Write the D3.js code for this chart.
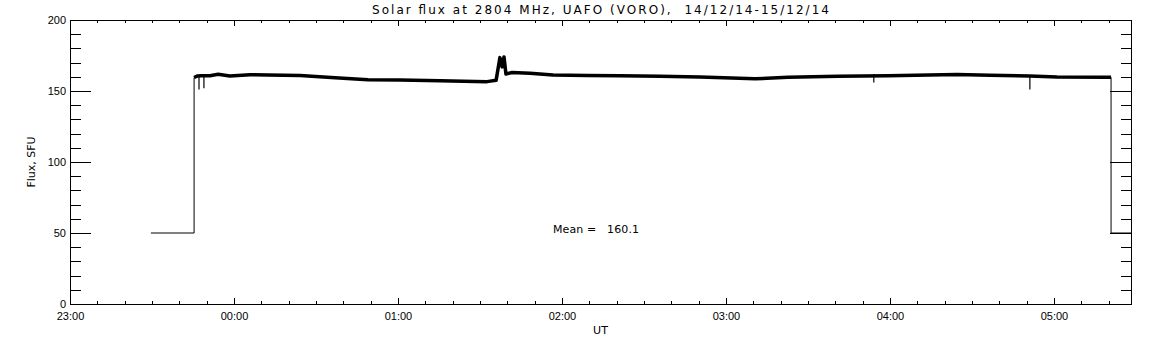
<!DOCTYPE html>
<html>
<head>
<meta charset="utf-8">
<script src="https://cdn.jsdelivr.net/npm/d3@7"></script>
<style>
  html, body { margin: 0; padding: 0; background: #fff; }
  svg { display: block; font-family: "DejaVu Sans", sans-serif; }
</style>
</head>
<body>
<svg id="chart" width="1152" height="345"></svg>
<script>
// --- data ---------------------------------------------------------------
const title = "Solar flux at 2804 MHz, UAFO (VORO),  14/12/14-15/12/14";
const xLabel = "UT";
const yLabel = "Flux, SFU";
const meanText = "Mean =   160.1";
const yTicks = [0, 50, 100, 150, 200];
const xTickLabels = ["23:00", "00:00", "01:00", "02:00", "03:00", "04:00", "05:00"];

// UT times (23:xx on the 14th, the rest on the 15th) and flux in SFU
const times = [
  "23:29:36", "23:45:24", "23:45:24", "23:46:30", "23:48:00", "23:51:12", "23:54:12",
  "23:58:30", "00:05:54", "00:12:24", "00:24:12", "00:37:00", "00:49:00", "01:00:42",
  "01:15:24", "01:32:36", "01:35:54", "01:37:18", "01:38:06", "01:38:48", "01:39:30",
  "01:41:42", "01:48:18", "01:56:42", "02:09:12", "02:21:12", "02:35:54", "02:50:30",
  "03:10:36", "03:22:42", "03:41:00", "03:59:18", "04:24:30", "04:36:36", "04:51:12",
  "05:01:06", "05:19:24", "05:20:54", "05:20:54", "05:28:12"
];
const flux = [
  50, 50, 159.5, 160.5, 160.8, 160.8, 161.8,
  160.6, 161.5, 161.3, 161.0, 159.4, 158.0, 157.8,
  157.3, 156.6, 157.5, 173.5, 167.0, 174.0, 162.0,
  163.0, 162.5, 161.3, 161.0, 160.7, 160.4, 159.8,
  158.6, 159.6, 160.3, 160.8, 161.6, 161.1, 160.5,
  159.8, 159.6, 159.6, 50, 50
];

// short downward spikes
const spikeTimes = ["23:47:12", "23:49:00", "03:54:06", "04:51:12"];
const spikeHigh = [160.5, 161.0, 162.0, 160.5];
const spikeLow = [151.0, 152.0, 156.0, 151.0];

// --- layout ---------------------------------------------------------------
const m = { left: 70, right: 1131, top: 20, bottom: 304 };
const svg = d3.select("#chart");

const parseT = (s) => {
  const day = +s.slice(0, 2) >= 12 ? "2014-12-14" : "2014-12-15";
  return d3.utcParse("%Y-%m-%d %H:%M:%S")(day + " " + s);
};
const t0 = parseT("23:00:00"), t1 = parseT("05:28:12");

const x = d3.scaleUtc().domain([t0, t1]).range([m.left, m.right]);
const y = d3.scaleLinear().domain([0, 200]).range([m.bottom, m.top]);

const pts = times.map((t, i) => ({ t: parseT(t), v: flux[i] }));
const majorX = xTickLabels.map((s) => parseT(s + ":00"));
const minorX = d3.utcMinute.every(10).range(t0, t1);
const minorY = d3.range(0, 201, 10);

// x axes: ticks pointing into the plot, bottom labelled
const fmt = d3.utcFormat("%H:%M");
function xAxis(sel, ypos, dir, labels) {
  sel.append("g").attr("transform", `translate(0,${ypos})`)
    .call(d3.axisBottom(x).tickValues(minorX).tickSize(3 * dir).tickFormat(""));
  sel.append("g").attr("transform", `translate(0,${ypos})`)
    .call(d3.axisBottom(x).tickValues(majorX).tickSize(6 * dir).tickPadding(8)
      .tickFormat(labels ? fmt : ""));
}
function yAxis(sel, xpos, dir, labels) {
  sel.append("g").attr("transform", `translate(${xpos},0)`)
    .call(d3.axisLeft(y).tickValues(minorY).tickSize(10.5 * dir).tickFormat(""));
  sel.append("g").attr("transform", `translate(${xpos},0)`)
    .call(d3.axisLeft(y).tickValues(yTicks).tickSize(21 * dir).tickPadding(4)
      .tickFormat(labels ? d3.format("d") : ""));
}

const axes = svg.append("g").attr("shape-rendering", "crispEdges");
xAxis(axes, m.bottom, -1, true);
xAxis(axes, m.top, 1, false);
yAxis(axes, m.left, -1, true);
yAxis(axes, m.right, 1, false);
axes.selectAll(".domain").remove();
axes.selectAll(".tick line").attr("stroke", "#000");
axes.selectAll(".tick text").attr("fill", "#000").style("font-size", "11px");

axes.append("rect").attr("x", m.left).attr("y", m.top)
  .attr("width", m.right - m.left).attr("height", m.bottom - m.top)
  .attr("fill", "none").attr("stroke", "#000");

// --- data -----------------------------------------------------------------
const line = d3.line().x((d) => x(d.t)).y((d) => y(d.v));
svg.append("path").datum(pts).attr("fill", "none").attr("stroke", "#000")
  .attr("stroke-width", 1).attr("d", line);
svg.append("path").datum(pts).attr("fill", "none").attr("stroke", "#000")
  .attr("stroke-width", 3.5).attr("stroke-linejoin", "round")
  .attr("d", line.defined((d) => d.v > 100));

svg.selectAll("line.spike").data(spikeTimes).join("line").attr("class", "spike")
  .attr("x1", (d) => x(parseT(d))).attr("x2", (d) => x(parseT(d)))
  .attr("y1", (d, i) => y(spikeHigh[i])).attr("y2", (d, i) => y(spikeLow[i]))
  .attr("stroke", "#000").attr("stroke-width", 1.2);

// --- texts ----------------------------------------------------------------
const cx = (m.left + m.right) / 2;
svg.append("text").attr("x", cx).attr("y", 14).attr("text-anchor", "middle")
  .attr("textLength", 457).attr("lengthAdjust", "spacing")
  .style("font-size", "12px").style("white-space", "pre").text(title);

svg.append("text").attr("x", cx).attr("y", 334).attr("text-anchor", "middle")
  .style("font-size", "11px").text(xLabel);

svg.append("text").attr("transform", `translate(35,${(m.top + m.bottom) / 2}) rotate(-90)`)
  .attr("text-anchor", "middle").style("font-size", "11px").text(yLabel);

svg.append("text").attr("x", 553).attr("y", 233)
  .attr("textLength", 86).attr("lengthAdjust", "spacing")
  .style("font-size", "11px").style("white-space", "pre").text(meanText);
</script>
</body>
</html>
